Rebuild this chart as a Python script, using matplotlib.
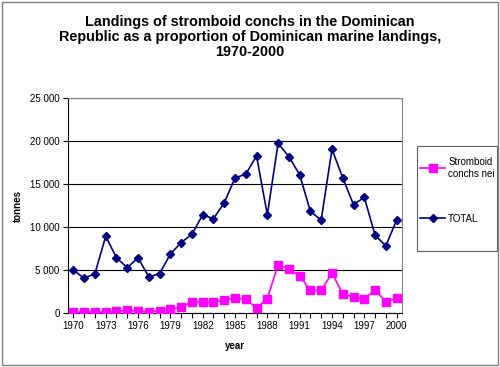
import matplotlib
matplotlib.use('Agg')
import matplotlib.pyplot as plt
from matplotlib.patches import Rectangle
from matplotlib.ticker import FuncFormatter, MultipleLocator

plt.rcParams['font.family'] = ['Liberation Sans', 'DejaVu Sans']

years = list(range(1970, 2001))
total = [5000, 4040, 4580, 8920, 6420, 5270, 6420, 4190, 4580, 6850,
         8190, 9150, 11420, 10960, 12810, 15700, 16150, 18270, 11420, 19730,
         18190, 16080, 11810, 10810, 19040, 15730, 12580, 13460, 9040, 7810,
         10810]
strombus = [115, 115, 115, 115, 190, 300, 230, 115, 270, 420,
            690, 1310, 1230, 1270, 1500, 1730, 1620, 580, 1650, 5620,
            5120, 4310, 2620, 2620, 4650, 2230, 1850, 1620, 2690, 1310,
            1730]
xticks = list(range(1970, 2001, 3))
title = ('Landings of stromboid conchs in the Dominican\n'
         'Republic as a proportion of Dominican marine landings,\n'
         '1970-2000')

W, H = 500, 367
fig = plt.figure(figsize=(5, 3.67), dpi=100)
# plot area in pixels: left 68, right 402, top 98, bottom 313
ax = fig.add_axes([68/W, 1 - 313/H, (402-68)/W, (313-98)/H])

ax.plot(years, strombus, color='#FF00FF', marker='s', ms=6, lw=1.2,
        label='Stromboid\nconchs nei', zorder=3)
ax.plot(years, total, color='#000080', marker='D', ms=4.5, lw=1.2,
        label='TOTAL', zorder=3)

ax.set_xlim(1969.5, 2000.5)
ax.set_ylim(0, 25000)
ax.yaxis.set_major_locator(MultipleLocator(5000))
ax.yaxis.set_major_formatter(FuncFormatter(lambda v, p: f'{int(v):,}'.replace(',', ' ')))
ax.set_xticks(xticks)
ax.set_xticks(years, minor=True)
ax.tick_params(axis='both', labelsize=7, direction='out', length=3.6, width=0.8,
               color='black', pad=2.5)
ax.tick_params(axis='x', which='minor', length=3.6, width=0.8)
ax.grid(axis='y', color='black', lw=0.8)
ax.set_axisbelow(True)

for s in ['top', 'right']:
    ax.spines[s].set_color('#808080')
for s in ['left', 'bottom']:
    ax.spines[s].set_color('black')

ax.set_xlabel('year', fontsize=7, fontweight='bold', labelpad=7)
ax.set_ylabel('tonnes', fontsize=7, fontweight='bold', labelpad=5)

fig.text(0.5, 1 - 15/H, title, ha='center', va='top', fontsize=10.4,
         fontweight='bold', linespacing=1.08)

# legend: frame drawn separately to get Excel-like box
fig.patches.append(Rectangle((417/W, 1 - 251/H), 80/W, 105/H, transform=fig.transFigure,
                             fill=False, edgecolor='#606060', lw=0.8))
leg = fig.legend(loc='upper left', bbox_to_anchor=(417/W, 1 - 154/H),
                 fontsize=7, frameon=False, handlelength=2.6,
                 labelspacing=3.6, borderpad=0.3, handletextpad=0.3,
                 borderaxespad=0)

fig.patches.append(Rectangle((2/W, 2/H), 1 - 4/W, 1 - 4/H, transform=fig.transFigure,
                             fill=False, edgecolor='#808080', lw=1))

fig.savefig('out.png', dpi=100)
